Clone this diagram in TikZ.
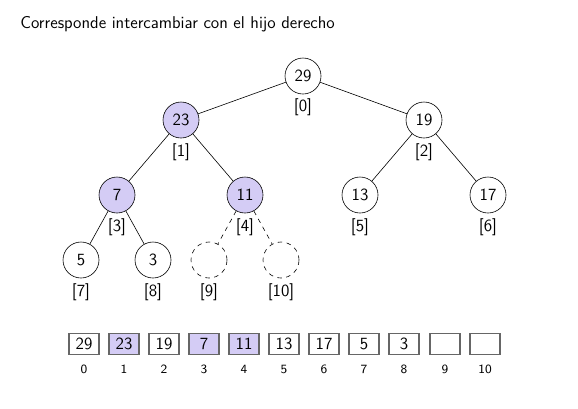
\documentclass[tikz,border=0pt]{standalone}
\usepackage{xcolor}
\definecolor{hl}{RGB}{212,204,245}
\begin{document}
\begin{tikzpicture}[x=0.6667pt,y=-0.6667pt,font=\sffamily\fontsize{11.4}{13.8}\selectfont,
  hnode/.style={circle,draw,minimum size=24pt,inner sep=0pt,fill=white},
  hlnode/.style={hnode,fill=hl},
  ghost/.style={circle,draw,dashed,minimum size=24pt,inner sep=0pt},
  idx/.style={inner sep=0pt},
  cell/.style={draw=black!60,thick,minimum width=20pt,minimum height=13.5pt,inner sep=0pt,fill=white},
  hlcell/.style={cell,fill=hl},
  aidx/.style={font=\sffamily\fontsize{8.4}{10}\selectfont,inner sep=0pt}]
\useasboundingbox (0,0) rectangle (578,408);
\node[anchor=west,inner sep=0pt] (title) at (20,24) {Corresponde intercambiar con el hijo derecho};

\node[hnode] (n0) at (303,76) {29};
\node[hlnode] (n1) at (181,120) {23};
\node[hnode] (n2) at (424,120) {19};
\node[hlnode] (n3) at (117,195) {7};
\node[hlnode] (n4) at (245,195) {11};
\node[hnode] (n5) at (360,195) {13};
\node[hnode] (n6) at (488,195) {17};
\node[hnode] (n7) at (81,260) {5};
\node[hnode] (n8) at (153,260) {3};
\node[ghost] (n9) at (209,260) {};
\node[ghost] (n10) at (281,260) {};

\node[idx] (i0) at (303,107) {[0]};
\node[idx] (i1) at (181,152) {[1]};
\node[idx] (i2) at (424,152) {[2]};
\node[idx] (i3) at (117,227) {[3]};
\node[idx] (i4) at (245,227) {[4]};
\node[idx] (i5) at (360,227) {[5]};
\node[idx] (i6) at (488,227) {[6]};
\node[idx] (i7) at (81,292) {[7]};
\node[idx] (i8) at (153,292) {[8]};
\node[idx] (i9) at (209,292) {[9]};
\node[idx] (i10) at (281,292) {[10]};

\draw (n0) -- (n1);
\draw (n0) -- (n2);
\draw (n1) -- (n3);
\draw (n1) -- (n4);
\draw (n2) -- (n5);
\draw (n2) -- (n6);
\draw (n3) -- (n7);
\draw (n3) -- (n8);
\draw[dashed] (n4) -- (n9);
\draw[dashed] (n4) -- (n10);

\node[cell] (c0) at (84,344) {29};
\node[hlcell] (c1) at (124,344) {23};
\node[cell] (c2) at (164,344) {19};
\node[hlcell] (c3) at (204,344) {7};
\node[hlcell] (c4) at (244,344) {11};
\node[cell] (c5) at (284,344) {13};
\node[cell] (c6) at (324,344) {17};
\node[cell] (c7) at (364,344) {5};
\node[cell] (c8) at (404,344) {3};
\node[cell] (c9) at (445,344) {};
\node[cell] (c10) at (485,344) {};

\node[aidx] (a0) at (84,369) {0};
\node[aidx] (a1) at (124,369) {1};
\node[aidx] (a2) at (164,369) {2};
\node[aidx] (a3) at (204,369) {3};
\node[aidx] (a4) at (244,369) {4};
\node[aidx] (a5) at (284,369) {5};
\node[aidx] (a6) at (324,369) {6};
\node[aidx] (a7) at (364,369) {7};
\node[aidx] (a8) at (404,369) {8};
\node[aidx] (a9) at (445,369) {9};
\node[aidx] (a10) at (485,369) {10};
\end{tikzpicture}
\end{document}
